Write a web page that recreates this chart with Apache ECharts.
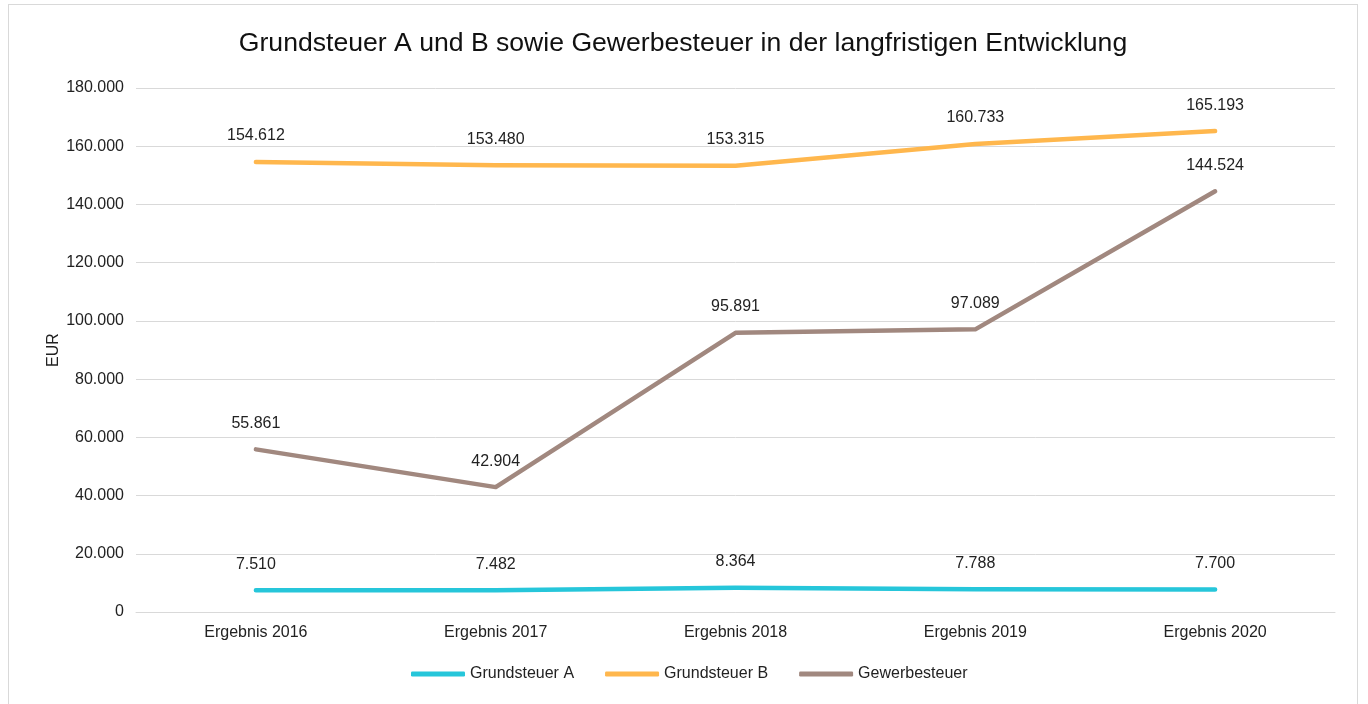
<!DOCTYPE html>
<html>
<head>
<meta charset="utf-8">
<script src="https://cdn.jsdelivr.net/npm/echarts@6/dist/echarts.min.js"></script>
<style>
  html, body { margin: 0; padding: 0; background: #fff; }
  #box { position: absolute; left: 8px; top: 4px; width: 1350px; height: 720px; border: 1px solid #d9d9d9; box-sizing: border-box; }
  #chart { width: 100%; height: 100%; }
</style>
</head>
<body>
<div id="box"><div id="chart"></div></div>
<script>
var categories = ['Ergebnis 2016', 'Ergebnis 2017', 'Ergebnis 2018', 'Ergebnis 2019', 'Ergebnis 2020'];
var grundsteuerA = [7510, 7482, 8364, 7788, 7700];
var grundsteuerB = [154612, 153480, 153315, 160733, 165193];
var gewerbesteuer = [55861, 42904, 95891, 97089, 144524];

// deutsche Tausendertrennung
function fmt(v) {
  return String(Math.round(v)).replace(/\B(?=(\d{3})+(?!\d))/g, '.');
}

var chart = echarts.init(document.getElementById('chart'));

function line(name, data, color) {
  return {
    name: name,
    type: 'line',
    data: data,
    symbol: 'circle',
    symbolSize: 0,
    lineStyle: { width: 4.5, color: color, cap: 'round', join: 'round' },
    itemStyle: { color: color },
    label: {
      show: true,
      position: 'top',
      distance: 18,
      color: '#222',
      fontSize: 16,
      fontFamily: 'Liberation Sans, Arial',
      formatter: function (p) { return fmt(p.value); }
    },
    emphasis: { disabled: true }
  };
}

var option = {
  animation: false,
  title: {
    text: 'Grundsteuer A und B sowie Gewerbesteuer in der langfristigen Entwicklung',
    left: 'center',
    top: 20,
    textStyle: { fontSize: 26.6, fontWeight: 'normal', color: '#111', fontFamily: 'Liberation Sans, Arial' }
  },
  grid: { left: 127, top: 83, width: 1199, height: 524 },
  xAxis: {
    type: 'category',
    data: categories,
    axisLine: { lineStyle: { color: '#d9d9d9', width: 1 } },
    axisTick: { show: false },
    axisLabel: { color: '#222', fontSize: 16, margin: 13, fontFamily: 'Liberation Sans, Arial' }
  },
  yAxis: {
    type: 'value',
    min: 0,
    max: 180000,
    interval: 20000,
    name: 'EUR',
    nameLocation: 'middle',
    nameGap: 74,
    nameMoveOverlap: false,
    nameTextStyle: { color: '#222', fontSize: 16, fontFamily: 'Liberation Sans, Arial' },
    axisLine: { show: false },
    axisTick: { show: false },
    axisLabel: { color: '#222', fontSize: 16, margin: 12, fontFamily: 'Liberation Sans, Arial', formatter: fmt },
    splitLine: { lineStyle: { color: '#d9d9d9', width: 1 } }
  },
  legend: {
    bottom: 36,
    left: 397,
    itemWidth: 54,
    itemHeight: 5,
    itemGap: 31,
    icon: 'roundRect',
    textStyle: { color: '#222', fontSize: 16, fontFamily: 'Liberation Sans, Arial' },
    data: ['Grundsteuer A', 'Grundsteuer B', 'Gewerbesteuer']
  },
  series: [
    line('Grundsteuer A', grundsteuerA, '#26C6DA'),
    line('Grundsteuer B', grundsteuerB, '#FFB74D'),
    line('Gewerbesteuer', gewerbesteuer, '#A1887F')
  ]
};
chart.setOption(option);
</script>
</body>
</html>
